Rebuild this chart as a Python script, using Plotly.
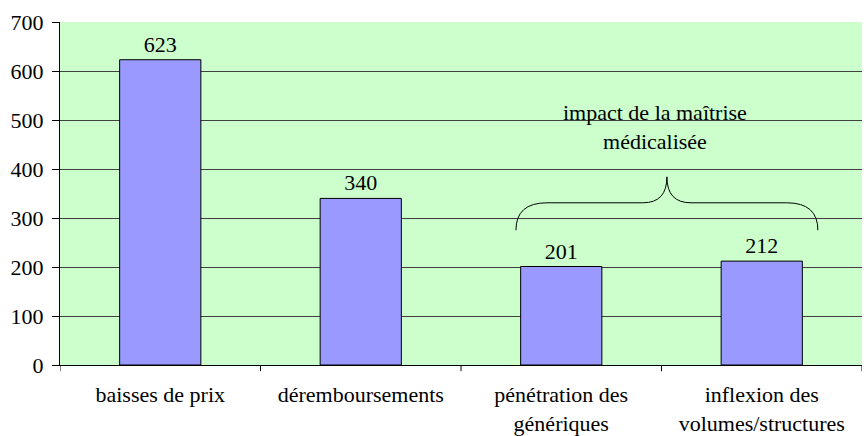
import plotly.graph_objects as go

# data
categories = ["baisses de prix", "déremboursements",
              "pénétration des<br>génériques", "inflexion des<br>volumes/structures"]
values = [623, 340, 201, 212]
y_ticks = [0, 100, 200, 300, 400, 500, 600, 700]
brace_label = "impact de la maîtrise<br>médicalisée"

FONT = dict(family="Liberation Serif", size=22, color="black")

bars = go.Bar(
    x=list(range(len(categories))), y=values,
    marker=dict(color="#9999FF", line=dict(color="black", width=1)),
    width=0.405,
    text=[str(v) for v in values], textposition="outside",
    textfont=FONT, cliponaxis=False,
    hoverinfo="none",
)

# curly brace over the last two bars (category-serial x, data y)
x0, xt, x1 = 1.774, 2.527, 3.28
y0, ya, yt = 275, 331, 384
dl, dt = 0.155, 0.12
brace = ("M %f,%f Q %f,%f %f,%f L %f,%f Q %f,%f %f,%f "
         "Q %f,%f %f,%f L %f,%f Q %f,%f %f,%f" % (
             x0, y0, x0, ya, x0 + dl, ya, xt - dt, ya, xt, ya, xt, yt,
             xt, ya, xt + dt, ya, x1 - dl, ya, x1, ya, x1, y0))

layout = go.Layout(
    width=866, height=436,
    margin=dict(l=60, r=4, t=22, b=71),
    paper_bgcolor="white",
    plot_bgcolor="#CCFFCC",
    font=FONT,
    showlegend=False,
    bargap=0.595,
    xaxis=dict(
        tickmode="array", tickvals=list(range(len(categories))), ticktext=categories,
        range=[-0.5, len(categories) - 0.5],
        showgrid=False, zeroline=False, automargin=False,
        showline=True, linecolor="black", linewidth=1,
        ticks="", tickfont=FONT, ticklabelstandoff=10,
    ),
    yaxis=dict(
        range=[0, 700], tickvals=y_ticks,
        showgrid=True, gridcolor="#404040", gridwidth=1,
        zeroline=False, automargin=False,
        showline=True, linecolor="black", linewidth=1,
        ticks="outside", ticklen=7, tickcolor="black",
        tickfont=FONT, ticklabelstandoff=4,
    ),
    shapes=[dict(type="path", xref="x", yref="y", path=brace,
                 line=dict(color="black", width=1))],
    annotations=[dict(x=2.467, y=486, xref="x", yref="y", text=brace_label,
                      showarrow=False, font=FONT, align="center")],
)

fig = go.Figure(data=[bars], layout=layout)

# outside tick marks at the category boundaries of the x axis
for b in [-0.5, 0.5, 1.5, 2.5, 3.5]:
    fig.add_shape(type="line", xref="x", yref="paper", x0=b, x1=b, y0=0, y1=-0.018,
                  line=dict(color="black", width=1))

fig.write_html("out.html", config={"displayModeBar": False},
               post_script="document.body.style.margin='0';")
